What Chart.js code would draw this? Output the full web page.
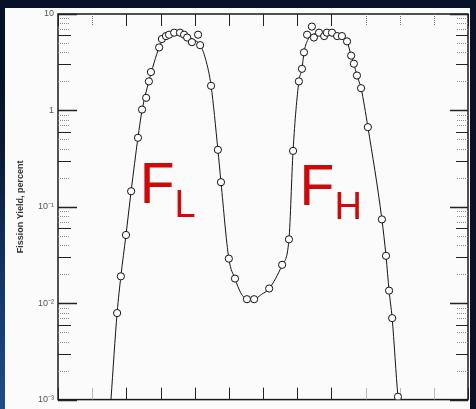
<!DOCTYPE html>
<html><head><meta charset="utf-8">
<script src="https://cdn.jsdelivr.net/npm/chart.js@4/dist/chart.umd.min.js"></script>
<style>
html,body{margin:0;padding:0;width:476px;height:409px;overflow:hidden;
background: radial-gradient(ellipse 300px 330px at 0px 409px, #1f4d8a 0%, #143566 40%, #0b1c3a 75%, #071228 100%);}
#wrap{position:absolute;left:0;top:0;width:476px;height:409px;}
</style></head><body>
<div id="wrap"><canvas id="c" width="476" height="409"></canvas></div>
<script>
// Measured points: mass number vs fission yield (%)
const massNumbers = [77.3,78.4,79.9,81.4,83.4,84.6,85.8,86.6,87.2,89.6,90.4,91.6,92.5,94.0,95.7,96.9,97.8,99.2,101.0,101.6,104.8,106.8,107.7,110.0,111.8,115.3,117.4,121.8,125.6,127.6,128.8,130.5,131.4,132.0,132.9,134.3,134.9,136.4,137.9,138.7,140.2,141.7,143.1,144.6,145.8,146.6,147.5,148.7,150.7,154.8,156.0,156.9,157.8,159.5];
const yieldPercent = [0.0079,0.019,0.051,0.145,0.52,1.02,1.35,2.0,2.5,4.5,5.5,5.9,6.1,6.4,6.4,6.1,5.7,5.1,6.1,4.75,1.8,0.39,0.18,0.029,0.018,0.011,0.011,0.0142,0.025,0.046,0.38,2.0,2.7,4.0,6.1,7.4,5.7,6.4,5.9,6.4,6.4,5.9,5.9,5.2,3.7,3.05,2.3,1.7,0.67,0.074,0.031,0.0135,0.0070,0.00107];
// Smooth curve drawn through the data
const curveMass = [75.5,77.3,78.4,79.9,81.4,83.4,84.6,86.6,89.6,91.0,93.0,95.0,97.0,99.0,101.6,103.2,104.8,106.8,107.7,110.0,111.8,113.5,115.3,117.4,119.5,121.8,125.6,127.6,128.8,130.5,131.4,132.0,133.0,134.5,137.0,140.0,142.5,144.6,145.8,146.6,147.5,148.7,150.7,154.8,156.0,156.9,157.8,159.5,159.6];
const curveYield = [0.001,0.0079,0.019,0.051,0.145,0.52,1.0,2.0,4.5,5.6,6.2,6.45,6.2,5.6,4.75,3.4,1.8,0.39,0.18,0.029,0.018,0.0128,0.011,0.011,0.0123,0.0142,0.025,0.046,0.38,2.0,2.7,4.0,5.3,6.1,6.3,6.3,6.0,5.2,3.7,3.05,2.3,1.7,0.67,0.074,0.031,0.0135,0.0070,0.00107,0.001];
const xTickValues = [60,70,80,90,100,110,120,130,140,150,160,170,180];
const xFaintTicks = [70,150,160,170];
const yDecadeValues = [10,1,0.1,0.01,0.001];
const yDecadeLabels = ["10","1","10\u207B\u00B9","10\u207B\u00B2","10\u207B\u00B3"];
const yAxisTitle = "Fission Yield, percent";
const peakLabels = [{main:"F", sub:"L", mass:83.9, value:0.11}, {main:"F", sub:"H", mass:130.7, value:0.105}];

const decorPlugin = {
  id: 'decor',
  beforeDraw(chart){
    const ctx = chart.ctx;
    ctx.save();
    ctx.fillStyle = '#fbfbfb';
    ctx.fillRect(5, 8, 465, 401);
    ctx.restore();
  },
  beforeDatasetsDraw(chart){
    const ctx = chart.ctx, a = chart.chartArea;
    const xs = chart.scales.x, ys = chart.scales.y;
    ctx.save();
    // frame
    ctx.strokeStyle = '#1a1a1a';
    ctx.lineWidth = 1.5;
    ctx.strokeRect(a.left, a.top, a.right - a.left, a.bottom - a.top);
    // y ticks (log)
    for (let e = -3; e <= 1; e++) {
      for (let m = 1; m <= 9; m++) {
        const v = m * Math.pow(10, e);
        if (v > 10.0001) continue;
        const py = Math.round(ys.getPixelForValue(v)) + 0.5;
        const major = (m === 1);
        const mid = (m === 3 || m === 6);
        const len = major ? 19 : (mid ? 13 : 12);
        ctx.lineWidth = major ? 1.5 : 1;
        ctx.strokeStyle = major || mid ? '#222' : '#8a8a8a';
        ctx.setLineDash(major || mid ? [] : [1, 1]);
        ctx.beginPath();
        ctx.moveTo(a.left, py); ctx.lineTo(a.left + len, py);
        ctx.moveTo(a.right, py); ctx.lineTo(a.right - len + 1, py);
        ctx.stroke();
      }
    }
    // x ticks top and bottom
    xTickValues.forEach(v => {
      const px = Math.round(xs.getPixelForValue(v)) + 0.5;
      const faint = xFaintTicks.includes(v);
      ctx.setLineDash(faint ? [1, 1] : []);
      ctx.strokeStyle = faint ? '#777' : '#222';
      ctx.lineWidth = 1;
      ctx.beginPath();
      ctx.moveTo(px, a.top); ctx.lineTo(px, a.top + 12);
      ctx.moveTo(px, a.bottom); ctx.lineTo(px, a.bottom - 12);
      ctx.stroke();
    });
    ctx.restore();
  },
  afterDraw(chart){
    const ctx = chart.ctx;
    const xs = chart.scales.x, ys = chart.scales.y;
    ctx.save();
    ctx.fillStyle = '#cc0a0a';
    ctx.textBaseline = 'alphabetic';
    ctx.textAlign = 'left';
    peakLabels.forEach(l => {
      const px = xs.getPixelForValue(l.mass), py = ys.getPixelForValue(l.value);
      ctx.font = '57px "Liberation Sans", Arial, sans-serif';
      ctx.fillText(l.main, px, py);
      const w = ctx.measureText(l.main).width;
      ctx.font = '38px "Liberation Sans", Arial, sans-serif';
      ctx.fillText(l.sub, px + w, py + 14);
    });
    ctx.restore();
  }
};

const chart = new Chart(document.getElementById('c'), {
  data: {
    datasets: [
      {
        type: 'scatter',
        label: 'Measured',
        data: massNumbers.map((m, i) => ({x: m, y: yieldPercent[i]})),
        pointRadius: 3.6,
        pointBackgroundColor: '#ffffff',
        pointBorderColor: '#111111',
        pointBorderWidth: 1,
        showLine: false
      },
      {
        type: 'line',
        label: 'Curve',
        data: curveMass.map((m, i) => ({x: m, y: curveYield[i]})),
        borderColor: '#151515',
        borderWidth: 1,
        pointRadius: 0,
        fill: false,
        cubicInterpolationMode: 'monotone'
      }
    ]
  },
  options: {
    responsive: false,
    animation: false,
    devicePixelRatio: 1,
    layout: {padding: {top: 14, right: 8, bottom: 0, left: 0}},
    plugins: {legend: {display: false}, tooltip: {enabled: false}},
    scales: {
      x: {type: 'linear', min: 60, max: 180, display: false},
      y: {
        type: 'logarithmic', min: 0.001, max: 10,
        grid: {display: false, drawTicks: false},
        border: {display: false},
        afterFit(s){ s.width = 58; },
        afterBuildTicks(s){ s.ticks = yDecadeValues.map(v => ({value: v})); },
        ticks: {
          autoSkip: false,
          padding: 4,
          color: '#555',
          font: {size: 9, family: '"Liberation Sans", Arial, sans-serif'},
          callback(v){
            const i = yDecadeValues.findIndex(d => Math.abs(d - v) / d < 1e-6);
            return i >= 0 ? yDecadeLabels[i] : '';
          }
        },
        title: {
          display: true, text: yAxisTitle, color: '#333',
          font: {size: 9, weight: 'bold', family: '"Liberation Sans", Arial, sans-serif'},
          padding: {top: 15, bottom: 0}
        }
      }
    }
  },
  plugins: [decorPlugin]
});
</script>
</body></html>
